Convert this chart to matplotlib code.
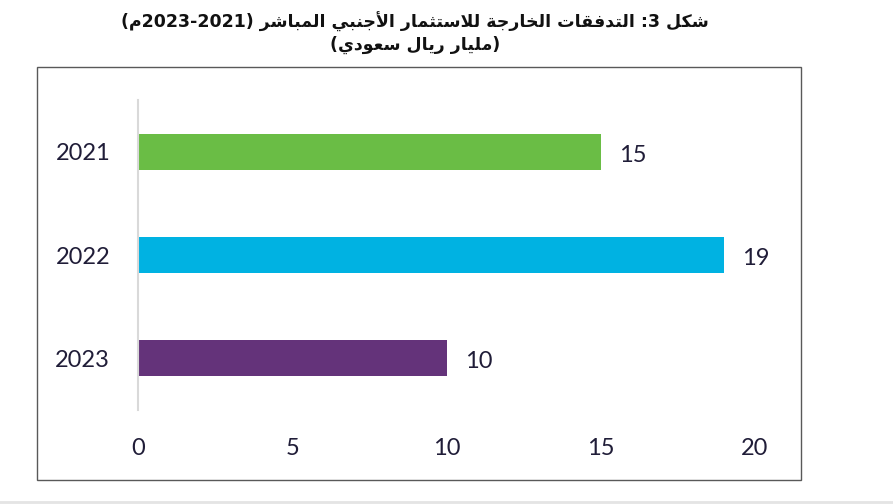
import re
import matplotlib
matplotlib.use("Agg")
import matplotlib.pyplot as plt
from matplotlib.patches import Rectangle
from matplotlib.lines import Line2D

years = ["2021", "2022", "2023"]
values = [15, 19, 10]
colors = ["#6abd45", "#00b2e2", "#64337a"]
xticks = [0, 5, 10, 15, 20]
title_l1 = "شكل 3: التدفقات الخارجة للاستثمار الأجنبي المباشر (2021-2023م)"
title_l2 = "(مليار ريال سعودي)"

# presentation forms: isolated, final, initial, medial
FORMS = {
    "ا": (0xFE8D, 0xFE8E), "أ": (0xFE83, 0xFE84), "د": (0xFEA9, 0xFEAA),
    "ذ": (0xFEAB, 0xFEAC), "ر": (0xFEAD, 0xFEAE), "ز": (0xFEAF, 0xFEB0),
    "و": (0xFEED, 0xFEEE), "ة": (0xFE93, 0xFE94),
    "ب": (0xFE8F, 0xFE90, 0xFE91, 0xFE92), "ت": (0xFE95, 0xFE96, 0xFE97, 0xFE98),
    "ث": (0xFE99, 0xFE9A, 0xFE9B, 0xFE9C), "ج": (0xFE9D, 0xFE9E, 0xFE9F, 0xFEA0),
    "خ": (0xFEA5, 0xFEA6, 0xFEA7, 0xFEA8), "س": (0xFEB1, 0xFEB2, 0xFEB3, 0xFEB4),
    "ش": (0xFEB5, 0xFEB6, 0xFEB7, 0xFEB8), "ع": (0xFEC9, 0xFECA, 0xFECB, 0xFECC),
    "ف": (0xFED1, 0xFED2, 0xFED3, 0xFED4), "ق": (0xFED5, 0xFED6, 0xFED7, 0xFED8),
    "ك": (0xFED9, 0xFEDA, 0xFEDB, 0xFEDC), "ل": (0xFEDD, 0xFEDE, 0xFEDF, 0xFEE0),
    "م": (0xFEE1, 0xFEE2, 0xFEE3, 0xFEE4), "ن": (0xFEE5, 0xFEE6, 0xFEE7, 0xFEE8),
    "ي": (0xFEF1, 0xFEF2, 0xFEF3, 0xFEF4),
}
LAMALEF = {"ا": (0xFEFB, 0xFEFC), "أ": (0xFEF7, 0xFEF8)}


def shape(text):
    # merge lam + alef first
    chars = []
    i = 0
    while i < len(text):
        if text[i] == "ل" and i + 1 < len(text) and text[i + 1] in LAMALEF:
            chars.append(("LA", text[i + 1]))
            i += 2
        else:
            chars.append((text[i], None))
            i += 1

    def joins_next(c):
        return c[0] in FORMS and len(FORMS[c[0]]) == 4

    def is_letter(c):
        return c[0] == "LA" or c[0] in FORMS

    out = []
    for k, c in enumerate(chars):
        prev = chars[k - 1] if k > 0 else None
        nxt = chars[k + 1] if k + 1 < len(chars) else None
        p = prev is not None and joins_next(prev)
        if c[0] == "LA":
            out.append(chr(LAMALEF[c[1]][1 if p else 0]))
            continue
        if c[0] not in FORMS:
            out.append(c[0])
            continue
        f = FORMS[c[0]]
        n = len(f) == 4 and nxt is not None and is_letter(nxt)
        if p and n:
            out.append(chr(f[3]))
        elif n:
            out.append(chr(f[2]))
        elif p:
            out.append(chr(f[1]))
        else:
            out.append(chr(f[0]))
    return "".join(out)


def visual(text):
    s = shape(text)[::-1]
    s = s.translate(str.maketrans("()", ")("))
    return re.sub(r"\d+", lambda m: m.group(0)[::-1], s)


W, H = 893, 504
TXT = "#201d38"
fig = plt.figure(figsize=(W / 100, H / 100), dpi=100)
fig.patch.set_facecolor("white")

# outer frame
fig.add_artist(Rectangle((37 / W, 1 - 480 / H), 764 / W, 413 / H,
                         transform=fig.transFigure, fill=False,
                         edgecolor="#595959", linewidth=1.0))
fig.add_artist(Line2D([0, 1], [2 / H, 2 / H], transform=fig.transFigure,
                      color="#e4e4e4", linewidth=2))

ax = fig.add_axes([138 / W, 1 - 410 / H, 617 / W, 310 / H])
ypos = list(range(len(years)))
ax.barh(ypos, values, height=0.35, color=colors)
for y, v in zip(ypos, values):
    ax.annotate(str(v), (v, y), xytext=(13, -2.5), textcoords="offset points",
                va="center", ha="left", fontsize=17, family="Lato",
                color=TXT)

ax.set_xlim(0, 20)
ax.set_ylim(2.5, -0.5)
ax.set_xticks(xticks)
ax.set_yticks(ypos)
ax.set_yticklabels(years)
for lab in ax.get_xticklabels() + ax.get_yticklabels():
    lab.set_family("Lato")
    lab.set_fontsize(17)
    lab.set_color(TXT)
ax.tick_params(axis="x", length=0, pad=20)
ax.tick_params(axis="y", length=0, pad=20)
for s in ["top", "right", "bottom"]:
    ax.spines[s].set_visible(False)
ax.spines["left"].set_color("#d9d9d9")
ax.spines["left"].set_linewidth(1.5)

fig.text(415 / W, 1 - 22 / H, visual(title_l1), ha="center", va="center",
         fontsize=12.5, fontweight="bold", family="DejaVu Sans", color="#111111")
fig.text(415 / W, 1 - 45 / H, visual(title_l2), ha="center", va="center",
         fontsize=12.5, fontweight="bold", family="DejaVu Sans", color="#111111")

fig.savefig("out.png", dpi=100)
